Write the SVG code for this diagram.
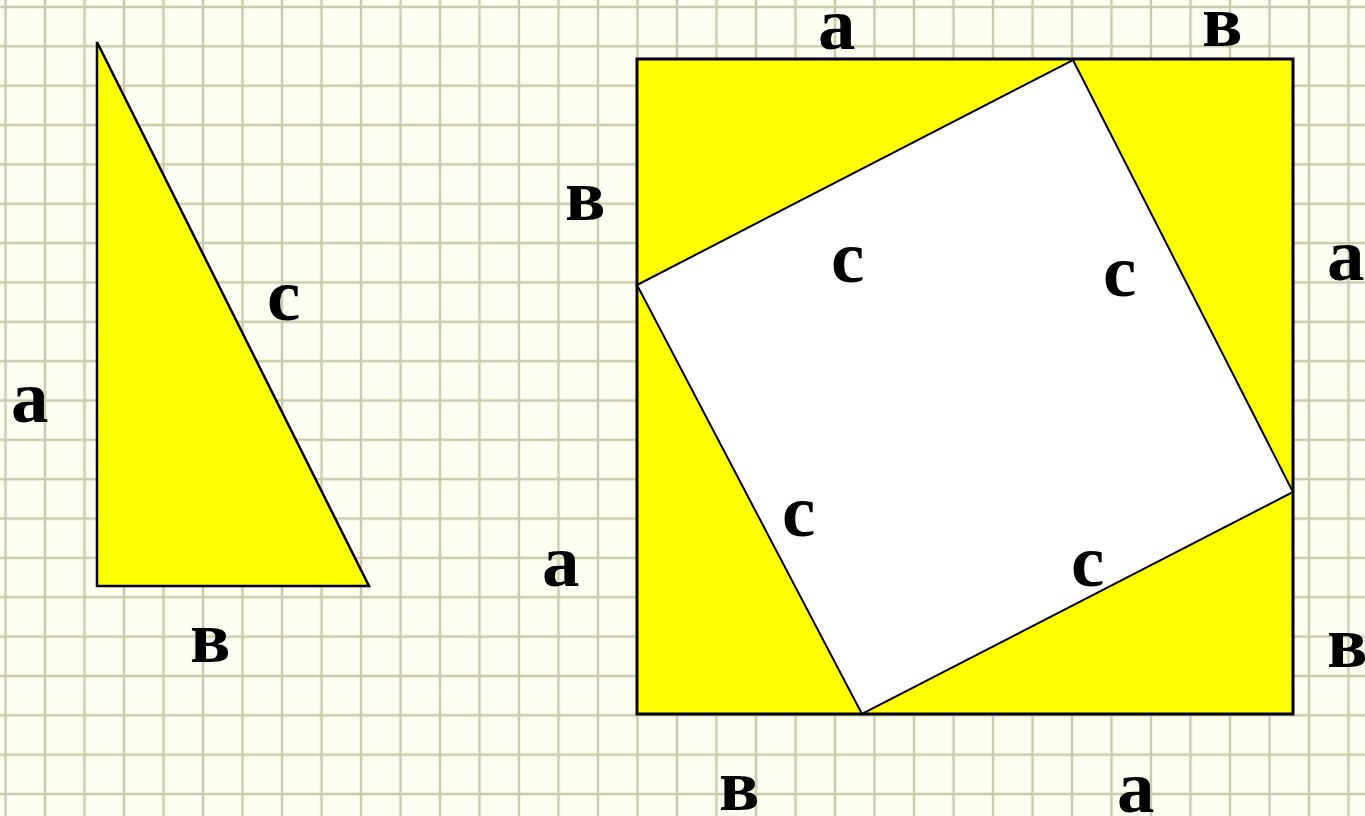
<svg xmlns="http://www.w3.org/2000/svg" width="1365" height="816" viewBox="0 0 1365 816">
  <defs>
    <pattern id="grid" x="5.5" y="7" width="39.5" height="39.35" patternUnits="userSpaceOnUse">
      <rect x="0" y="0" width="39.5" height="39.35" fill="#fdfdf1"/>
      <line x1="0" y1="0" x2="39.5" y2="0" stroke="#cbcbab" stroke-width="2.4"/>
      <line x1="0" y1="39.35" x2="39.5" y2="39.35" stroke="#cbcbab" stroke-width="2.4"/>
      <line x1="0" y1="0" x2="0" y2="39.35" stroke="#cbcbab" stroke-width="2.4"/>
      <line x1="39.5" y1="0" x2="39.5" y2="39.35" stroke="#cbcbab" stroke-width="2.4"/>
    </pattern>
    <style>
      .lbl { font-family: "Liberation Serif", "Times New Roman", serif; font-weight: bold; font-size: 75px; fill: #000; }
      .shape { stroke: #000; stroke-linejoin: miter; }
    </style>
  </defs>
  <rect id="background" x="0" y="0" width="1365" height="816" fill="url(#grid)"/>

  <g id="triangle">
    <polygon class="shape" points="97,42 97,586 369,586" fill="#ffff00" stroke-width="2.5"/>
    <text class="lbl" x="11" y="422">a</text>
    <text class="lbl" x="267" y="320">c</text>
    <text class="lbl" x="190" y="662">в</text>
  </g>

  <g id="square">
    <rect class="shape" x="637" y="59" width="656" height="655" fill="#ffff00" stroke-width="3"/>
    <polygon class="shape" points="1073,60 1293,492 862,714 637,285" fill="#ffffff" stroke-width="2"/>
    <text class="lbl" x="818" y="49">a</text>
    <text class="lbl" x="1202" y="46">в</text>
    <text class="lbl" x="565" y="220">в</text>
    <text class="lbl" x="1327" y="280">a</text>
    <text class="lbl" x="542" y="586">a</text>
    <text class="lbl" x="1327" y="667">в</text>
    <text class="lbl" x="719" y="810">в</text>
    <text class="lbl" x="1117" y="812">a</text>
    <text class="lbl" x="831" y="282">c</text>
    <text class="lbl" x="1103" y="296">c</text>
    <text class="lbl" x="782" y="536">c</text>
    <text class="lbl" x="1071" y="586">c</text>
  </g>
</svg>
